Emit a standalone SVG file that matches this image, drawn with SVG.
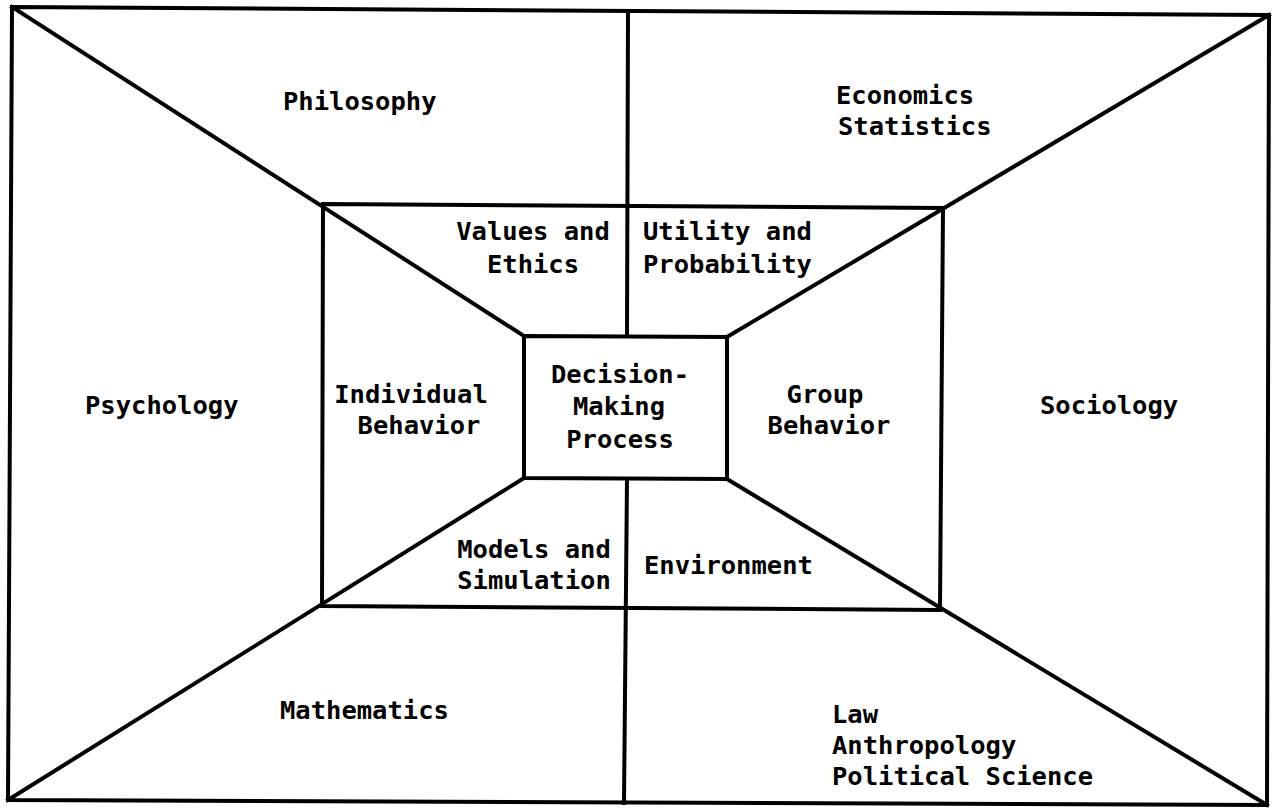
<svg xmlns="http://www.w3.org/2000/svg" width="1275" height="809" viewBox="0 0 1275 809">
<style>
.ln{fill:none;stroke:#000;stroke-width:4;stroke-linejoin:miter;stroke-linecap:square}
.t{font-family:"DejaVu Sans Mono","Liberation Mono",monospace;font-weight:bold;font-size:25.5px;fill:#000}
.c{text-anchor:middle}
</style>
<rect width="1275" height="809" fill="#fff"/>
<g id="connectors">
<polygon class="ln" points="12,7 1269,15 1267,805 8,800"/>
<polygon class="ln" points="323,204 943,208 940,610 322,606"/>
<polygon class="ln" points="524,336 727,337 727,479 524,478"/>
<line class="ln" x1="12" y1="7" x2="524" y2="336"/>
<line class="ln" x1="1269" y1="15" x2="727" y2="337"/>
<line class="ln" x1="1267" y1="805" x2="727" y2="479"/>
<line class="ln" x1="8" y1="800" x2="524" y2="478"/>
<line class="ln" x1="628" y1="11" x2="627" y2="336"/>
<line class="ln" x1="627" y1="479" x2="624" y2="803"/>
</g>
<g id="philosophy"><text class="t" x="283" y="110">Philosophy</text></g>
<g id="economics"><text class="t" x="836" y="104">Economics</text><text class="t" x="838" y="135">Statistics</text></g>
<g id="psychology"><text class="t" x="85" y="414">Psychology</text></g>
<g id="sociology"><text class="t" x="1040" y="414">Sociology</text></g>
<g id="mathematics"><text class="t" x="280" y="719">Mathematics</text></g>
<g id="law"><text class="t" x="832" y="723">Law</text><text class="t" x="832" y="754">Anthropology</text><text class="t" x="832" y="785">Political Science</text></g>
<g id="values"><text class="t c" x="533" y="240">Values and</text><text class="t c" x="533" y="273">Ethics</text></g>
<g id="utility"><text class="t" x="643" y="240">Utility and</text><text class="t" x="643" y="273">Probability</text></g>
<g id="individual"><text class="t c" x="411" y="403">Individual</text><text class="t c" x="419" y="434">Behavior</text></g>
<g id="group"><text class="t c" x="825" y="403">Group</text><text class="t c" x="829" y="434">Behavior</text></g>
<g id="decision"><text class="t c" x="620" y="383">Decision-</text><text class="t c" x="619" y="415">Making</text><text class="t c" x="620" y="448">Process</text></g>
<g id="models"><text class="t c" x="534" y="558">Models and</text><text class="t c" x="534" y="589">Simulation</text></g>
<g id="environment"><text class="t" x="644" y="574">Environment</text></g>
</svg>
